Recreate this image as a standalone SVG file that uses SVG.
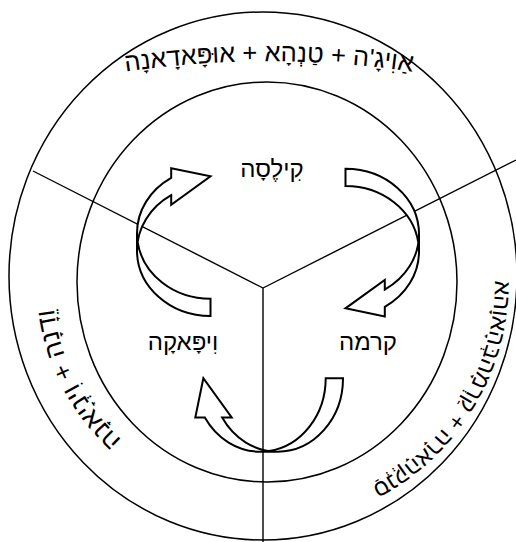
<svg xmlns="http://www.w3.org/2000/svg" width="516" height="542" viewBox="0 0 516 542">
<style>
.ring{fill:none;stroke:#000;stroke-width:1.5}
.div{fill:none;stroke:#000;stroke-width:1.4}
.arrow{fill:#fff;stroke:none}
.arrowline{fill:none;stroke:#000;stroke-width:2;stroke-linejoin:miter}
.lbl{font-family:"Liberation Sans","DejaVu Sans",sans-serif;font-size:24px;fill:#000;text-anchor:middle}
.ringtxt{font-family:"Liberation Sans","DejaVu Sans",sans-serif;font-size:24px;fill:#000;text-anchor:middle}
</style>
<defs>
<g id="carrow">
<path class="arrow" d="M0,65.5 A73.5,65.5 0 0 0 34.2,120.85 L34.2,111.3 L73.5,139.65 L34.2,147.7 L34.2,138.15 A73.5,65.5 0 0 1 0,82.8 Z"/>
<path class="arrow" d="M73.5,17.3 A73.5,65.5 0 0 0 0.64,74.15 A73.5,65.5 0 0 1 73.5,0 Z"/>
<path class="arrowline" d="M0,65.5 A73.5,65.5 0 0 0 34.2,120.85 L34.2,111.3 L73.5,139.65 L34.2,147.7 L34.2,138.15 A73.5,65.5 0 0 1 0,82.8 L0,65.5 A73.5,65.5 0 0 1 73.5,0 L73.5,17.3 A73.5,65.5 0 0 0 0.64,74.15"/>
</g>
<path id="pTop" d="M69,81.5 A1000,1000 0 0 1 469,81.5"/>
<path id="pLeft" d="M192.2,482.2 A213,213 0 0 1 59.3,226.9"/>
<path id="pRight" d="M493.7,258 A230,230 0 0 1 351.2,495.3"/>
</defs>
<g id="rings">
<ellipse class="ring" cx="263" cy="276" rx="254" ry="264"/>
<ellipse class="ring" cx="267" cy="282" rx="190" ry="200"/>
</g>
<g id="connectors">
<line class="div" x1="33" y1="171" x2="263" y2="288"/>
<line class="div" x1="263" y1="288" x2="516" y2="160"/>
<line class="div" x1="263" y1="288" x2="263" y2="542"/>
<use href="#carrow" transform="matrix(1,0,0,-1,137,316)"/>
<use href="#carrow" transform="matrix(-1,0,0,1,419,168.7)"/>
<use href="#carrow" transform="matrix(0,-1,-1,0,343,451.7)"/>
</g>
<g id="kilesa"><text class="lbl" x="272" y="177">קִילֶסָה</text></g>
<g id="kamma"><text class="lbl" x="368" y="350">קרמה</text></g>
<g id="vipaka"><text class="lbl" x="183" y="350">וִיפָּאקָה</text></g>
<g id="outer-top"><text class="ringtxt" style="font-size:25.5px"><textPath href="#pTop" startOffset="50%">אַוִיגָ'ה + טַנְהָא + אוּפָּאדָאנָה</textPath></text></g>
<g id="outer-left"><text class="ringtxt" style="font-size:26px"><textPath href="#pLeft" startOffset="50%">וֵדָנָה + וִינְיָאנָה</textPath></text></g>
<g id="outer-right"><text class="ringtxt" style="font-size:23px"><textPath href="#pRight" startOffset="50%">סַנְקְהָארָה + קַרְמָהבְּהָאוָהא</textPath></text></g>
</svg>
